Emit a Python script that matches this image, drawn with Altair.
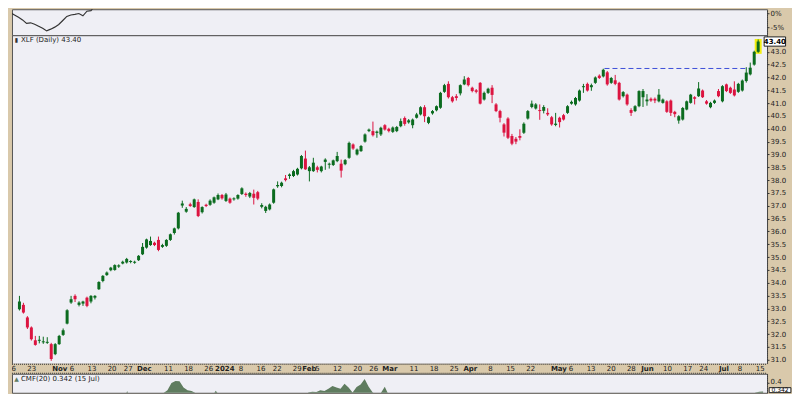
import altair as alt
import pandas as pd

# ---------------- data ----------------
OPEN = [32.97,33.14,32.65,32.26,31.76,31.74,31.68,31.66,31.61,31.22,
31.61,31.97,32.41,33.23,33.49,33.14,33.19,33.42,33.27,33.42,
33.75,34.07,34.30,34.49,34.50,34.63,34.75,34.79,34.81,34.78,
34.88,35.11,35.37,35.47,35.56,35.67,35.40,35.44,35.67,35.94,
36.12,37.01,36.77,37.06,36.95,37.15,36.75,37.04,37.04,37.12,
37.25,37.42,37.19,37.28,37.25,37.28,37.46,37.47,37.36,37.47,
37.53,36.96,36.80,36.86,37.12,37.76,37.77,38.07,38.16,38.16,
38.22,38.46,38.84,38.35,38.35,38.50,38.35,38.71,38.60,38.59,
38.74,38.64,38.62,38.87,39.39,39.00,39.13,39.50,39.91,39.91,
39.84,39.78,40.14,40.00,39.88,39.91,40.10,40.42,40.25,40.14,
40.43,40.56,40.84,40.23,40.60,40.72,40.82,41.44,41.75,41.23,
41.27,41.38,41.73,41.98,41.60,41.50,41.79,41.14,41.40,41.60,
40.95,40.69,40.17,40.40,39.72,39.61,39.72,39.85,40.40,40.85,
40.79,40.73,40.70,40.62,40.45,40.15,40.43,40.53,40.62,40.98,
40.95,41.10,41.62,41.75,41.62,41.79,42.07,42.04,42.20,41.79,
41.89,41.79,41.27,41.33,40.73,40.69,40.88,41.23,41.07,41.17,
41.17,41.07,41.01,41.07,41.10,40.66,40.32,40.36,40.75,41.01,
41.23,41.27,41.49,41.07,40.84,41.01,41.47,41.07,41.73,41.60,
41.53,41.44,41.49,41.86,42.12,42.50,43.00]

CLOSE = [33.27,32.84,32.26,31.80,31.58,31.78,31.72,31.70,31.03,31.61,
31.93,32.15,32.93,33.36,33.36,33.23,33.27,33.10,33.49,33.49,
34.03,34.27,34.40,34.59,34.69,34.68,34.82,34.93,34.85,34.82,
35.05,35.40,35.69,35.63,35.47,35.28,35.47,35.67,35.89,36.12,
36.73,37.09,36.88,36.99,37.25,36.60,36.95,36.99,37.20,37.33,
37.42,37.29,37.44,37.12,37.29,37.42,37.68,37.42,37.50,37.31,
37.28,37.03,36.96,37.05,37.64,37.81,37.90,38.00,38.22,38.35,
38.44,38.94,38.42,38.50,38.68,38.40,38.53,38.80,38.64,38.77,
38.94,38.37,38.78,39.45,39.23,39.19,39.33,39.78,39.97,39.75,
39.89,40.04,39.97,39.91,40.05,40.07,40.30,40.19,40.33,40.36,
40.56,40.84,40.49,40.45,40.69,40.88,41.40,41.70,41.23,41.07,
41.20,41.70,41.92,41.70,41.47,41.44,40.98,41.40,41.56,41.32,
40.69,40.43,39.85,39.65,39.42,39.50,39.65,40.20,40.69,40.98,
40.95,40.69,40.85,40.56,40.17,40.20,40.26,40.36,40.88,41.05,
41.20,41.49,41.66,41.49,41.70,42.00,41.98,42.30,41.73,41.98,
41.75,41.14,41.43,40.95,40.62,40.88,41.47,41.47,41.14,41.10,
41.10,41.33,41.14,40.66,40.62,40.57,40.49,40.81,41.07,41.33,
41.17,41.57,41.23,40.98,41.01,41.10,41.27,41.66,41.47,41.40,
41.30,41.75,41.88,42.19,42.38,43.00,43.40]

HIGH = [33.49,33.22,32.70,32.30,31.93,31.93,31.90,31.88,31.66,31.65,
31.97,32.22,32.97,33.49,33.55,33.28,33.30,33.46,33.52,33.52,
34.06,34.30,34.44,34.62,34.72,34.72,34.86,34.97,34.88,34.86,
35.08,35.55,35.72,35.80,35.60,35.80,35.52,35.70,35.92,36.15,
36.76,37.20,36.95,37.12,37.28,37.25,36.98,37.08,37.25,37.36,
37.48,37.46,37.50,37.32,37.33,37.45,37.72,37.52,37.54,37.63,
37.58,37.10,37.00,37.09,37.67,37.95,37.94,38.20,38.26,38.40,
38.48,38.98,39.15,38.55,38.87,38.56,38.56,38.85,38.68,38.80,
39.10,38.80,38.82,39.50,39.43,39.23,39.37,39.82,40.01,40.28,
39.93,40.08,40.18,40.04,40.09,40.11,40.40,40.48,40.38,40.40,
40.62,40.88,40.92,40.48,40.73,40.91,41.44,41.75,41.85,41.28,
41.35,41.73,42.05,42.02,41.64,41.55,41.82,41.45,41.60,41.70,
41.00,40.74,40.22,40.45,39.80,39.68,39.98,40.25,40.73,41.10,
41.00,40.95,40.92,40.80,40.50,40.62,40.47,40.58,40.92,41.10,
41.24,41.53,41.75,41.80,41.76,42.04,42.12,42.34,42.25,42.02,
42.10,41.83,41.47,41.37,40.80,40.92,41.50,41.55,41.35,41.22,
41.22,41.55,41.18,41.11,41.14,40.70,40.53,40.85,41.10,41.36,
41.27,41.82,41.53,41.12,41.05,41.14,41.55,41.70,41.76,41.64,
41.85,41.79,41.92,42.40,42.58,43.04,43.48]

LOW = [32.92,32.80,32.20,31.75,31.55,31.64,31.62,31.62,30.96,31.18,
31.58,31.93,32.38,33.18,33.25,33.08,33.10,33.05,33.20,33.35,
33.72,34.02,34.27,34.45,34.47,34.58,34.72,34.75,34.76,34.74,
34.85,35.08,35.33,35.44,35.43,35.23,35.36,35.40,35.63,35.88,
36.08,36.92,36.73,36.96,36.92,36.56,36.70,36.95,37.00,37.08,
37.22,37.24,37.15,37.08,37.20,37.24,37.42,37.35,37.30,37.05,
37.22,36.90,36.72,36.82,37.08,37.70,37.72,37.95,38.05,38.12,
38.18,38.42,38.40,37.95,38.32,38.30,38.30,38.40,38.45,38.55,
38.70,38.10,38.58,38.83,39.18,38.96,39.10,39.46,39.87,39.70,
39.65,39.72,39.93,39.86,39.84,39.87,40.06,40.12,40.20,40.02,
40.40,40.52,40.26,40.18,40.55,40.68,40.78,41.40,41.18,41.02,
41.10,41.30,41.70,41.65,41.42,41.38,40.95,41.10,41.36,41.00,
40.65,40.25,39.70,39.60,39.36,39.40,39.55,39.80,40.36,40.80,
40.75,40.35,40.60,40.50,40.12,40.10,40.05,40.32,40.58,40.94,
40.90,41.06,41.40,41.45,41.48,41.75,41.94,42.00,41.68,41.75,
41.70,41.10,41.22,40.90,40.50,40.65,40.84,40.85,40.90,41.05,
41.00,41.03,40.98,40.62,40.50,40.45,40.20,40.32,40.72,40.98,
40.95,41.24,41.20,40.94,40.80,40.97,41.23,41.03,41.43,41.36,
41.26,41.40,41.45,41.80,42.08,42.46,42.96]

CMF = [0.05,0.03,0.0,-0.03,-0.05,-0.06,-0.05,-0.06,-0.08,-0.05,
-0.02,0.0,0.04,0.08,0.1,0.09,0.11,0.1,0.13,0.15,
0.18,0.2,0.21,0.22,0.23,0.24,0.25,0.27,0.345,0.26,
0.24,0.25,0.3,0.322,0.324,0.27,0.26,0.33,0.35,0.4,
0.415,0.412,0.37,0.35,0.345,0.33,0.3,0.26,0.25,0.3,
0.347,0.31,0.285,0.25,0.22,0.2,0.21,0.2,0.19,0.2,
0.18,0.16,0.17,0.2,0.24,0.27,0.29,0.26,0.24,0.25,
0.28,0.325,0.27,0.335,0.34,0.338,0.35,0.345,0.36,0.38,
0.37,0.36,0.395,0.37,0.335,0.372,0.39,0.428,0.375,0.335,
0.315,0.33,0.374,0.315,0.3,0.298,0.29,0.26,0.24,0.22,
0.2,0.19,0.2,0.18,0.17,0.19,0.21,0.22,0.2,0.17,
0.15,0.14,0.15,0.14,0.12,0.1,0.06,0.05,0.04,0.02,
-0.02,-0.05,-0.08,-0.1,-0.12,-0.13,-0.12,-0.1,-0.07,-0.04,
-0.03,-0.02,0.0,0.01,-0.01,0.0,0.02,0.04,0.06,0.08,
0.1,0.12,0.13,0.12,0.14,0.15,0.16,0.17,0.15,0.16,
0.15,0.12,0.11,0.09,0.07,0.08,0.12,0.13,0.12,0.11,
0.1,0.12,0.11,0.08,0.06,0.07,0.06,0.1,0.15,0.2,
0.24,0.28,0.26,0.27,0.3,0.26,0.24,0.25,0.24,0.22,
0.23,0.25,0.27,0.29,0.333,0.34,0.342]

# upper (partially visible) performance panel, percent
TOP_IDX = [-1,0,1,2,3,4,5,6,7,8,9,10,11,12,13,14,15,16,17,18,19,20,21,22,23,24,25]
TOP_PCT = [0.2,-0.6,-1.4,-2.3,-3.5,-3.3,-3.8,-4.5,-5.2,-6.1,-5.5,-4.8,-3.9,-2.5,-1.1,
           -0.6,-0.4,-0.1,-0.9,0.7,0.9,2.6,3.0,3.1,3.2,3.8,4.1]

# date axis labels (trading-day index)
TICK_IDX = [0,5,12,15,20,25,29,33,39,44,49,53,57,62,66,71,74,76,81,86,90,94,100,105,110,
            114,119,124,129,136,139,144,149,154,158,163,168,172,177,181,186]
TICK_TEXT = ["16","23","Nov","6","13","20","27","Dec","11","18","26","2024","8","16","22","29",
             "Feb","5","12","20","26","Mar","11","18","25","Apr","8","15","22","May","6","13",
             "20","28","Jun","10","17","24","Jul","8","15"]
BOLD_LABELS = ["Nov","Dec","2024","Feb","Mar","Apr","May","Jun","Jul"]

PRICE_TICKS = [31.0,31.5,32.0,32.5,33.0,33.5,34.0,34.5,35.0,35.5,36.0,36.5,37.0,37.5,38.0,
               38.5,39.0,39.5,40.0,40.5,41.0,41.5,42.0,42.5,43.0]
TOP_TICKS = [-5, 0]
CMF_TICKS = [0.4]

# horizontal resistance line: start index, end index, price
LEVEL_START = [147.3]
LEVEL_END = [183.6]
LEVEL_PRICE = [42.35]

# ---------------- styling ----------------
GREEN = "#0b6b1f"
RED = "#dc1440"
BG = "#efeff5"
TAN = "#d9c9ab"
FONT = "DejaVu Sans"
TXT = "#222222"
W = 756
XS = alt.Scale(domain=[-0.62, 186.97], nice=False, zero=False)
YS_MAIN = alt.Scale(domain=[30.844, 43.646], nice=False, zero=False)
YS_TOP = alt.Scale(domain=[-7.59, 1.38], nice=False, zero=False)
YS_CMF = alt.Scale(domain=[0.3326, 0.4646], nice=False, zero=False)

N = len(CLOSE)
df = pd.DataFrame({"i": list(range(N)), "open": OPEN, "high": HIGH, "low": LOW, "close": CLOSE})
df["dir"] = ["up" if c >= o else "down" for o, c in zip(OPEN, CLOSE)]
df["btop"] = df[["open", "close"]].max(axis=1)
df["bbot"] = df[["open", "close"]].min(axis=1)

col = alt.Color("dir:N", scale=alt.Scale(domain=["up", "down"], range=[GREEN, RED]), legend=None)
xenc = alt.X("i:Q", scale=XS, axis=None)

main_axis = alt.Axis(orient="right", values=PRICE_TICKS, format=".1f", title=None,
                     labelOverlap=False, labelBound=False, grid=False)

base = alt.Chart(df)
last = df.tail(1).copy()
last["hl_lo"] = last["low"] - 0.04
last["hl_hi"] = last["high"] + 0.02

highlight = alt.Chart(last).mark_bar(size=7, color="#f2ee10").encode(
    x=xenc, y=alt.Y("hl_lo:Q", scale=YS_MAIN, axis=main_axis), y2="hl_hi:Q")
wick = base.mark_rule(strokeWidth=1).encode(
    x=xenc, y=alt.Y("low:Q", scale=YS_MAIN, axis=main_axis), y2="high:Q", color=col)
body = base.mark_bar(size=3).encode(
    x=xenc, y=alt.Y("bbot:Q", scale=YS_MAIN, axis=main_axis), y2="btop:Q", color=col)

lvl_df = pd.DataFrame({"s": LEVEL_START, "e": LEVEL_END, "p": LEVEL_PRICE})
level = alt.Chart(lvl_df).mark_rule(color="#3d4fd8", strokeDash=[5, 3], strokeWidth=1).encode(
    x=alt.X("s:Q", scale=XS, axis=None), x2="e:Q", y=alt.Y("p:Q", scale=YS_MAIN, axis=main_axis))

lc = CLOSE[-1]
box_df = pd.DataFrame({"x1": [N + 0.5], "x2": [N + 5.9], "xt": [N + 3.2],
                       "y1": [lc - 0.18], "y2": [lc + 0.18], "y": [lc], "t": [f"{lc:.2f}"]})
box = alt.Chart(box_df).mark_rect(fill="white", stroke="#222", strokeWidth=1).encode(
    x=alt.X("x1:Q", scale=XS, axis=None), x2="x2:Q",
    y=alt.Y("y1:Q", scale=YS_MAIN, axis=main_axis), y2="y2:Q")
box_t = alt.Chart(box_df).mark_text(font=FONT, fontSize=7, fontWeight="bold", color="#000").encode(
    x=alt.X("xt:Q", scale=XS, axis=None), y=alt.Y("y:Q", scale=YS_MAIN, axis=main_axis), text="t:N")

hdr_df = pd.DataFrame({"t": [f"XLF (Daily) {lc:.2f}"]})
hdr = alt.Chart(hdr_df).mark_text(font=FONT, fontSize=7, color=TXT, align="left", baseline="middle").encode(
    x=alt.value(9), y=alt.value(5), text="t:N")
icon = alt.Chart(hdr_df).mark_text(font=FONT, fontSize=6, color="#333", baseline="middle").encode(
    x=alt.value(4.5), y=alt.value(5), text=alt.value("▮"))

main = alt.layer(highlight, wick, body, level, box, box_t, icon, hdr).properties(
    width=W, height=329, view=alt.ViewBackground(fill=BG, stroke="#555"))

# top panel
top_df = pd.DataFrame({"i": TOP_IDX, "pct": TOP_PCT})
top = alt.Chart(top_df).mark_line(clip=True, color="#333", strokeWidth=1.2).encode(
    x=xenc,
    y=alt.Y("pct:Q", scale=YS_TOP, axis=alt.Axis(orient="right", values=TOP_TICKS, title=None,
            labelExpr="datum.value + '%'", labelOverlap=False, labelBound=False, grid=False)),
).properties(width=W, height=26, view=alt.ViewBackground(fill=BG, stroke="#555"))

# date band
dates_df = pd.DataFrame({"i": TICK_IDX, "t": TICK_TEXT,
                         "b": [1 if t in BOLD_LABELS else 0 for t in TICK_TEXT]})
d_norm = alt.Chart(dates_df).transform_filter("datum.b == 0").mark_text(
    font=FONT, fontSize=7, color=TXT, dx=-3, baseline="middle", clip=True).encode(
    x=xenc, y=alt.value(5.5), text="t:N")
d_bold = alt.Chart(dates_df).transform_filter("datum.b == 1").mark_text(
    font=FONT, fontSize=7, fontWeight="bold", color=TXT, dx=-3, baseline="middle", clip=True).encode(
    x=xenc, y=alt.value(5.5), text="t:N")
edge_df = pd.DataFrame({"k": [0]})
d_top = alt.Chart(edge_df).mark_rule(color="#333", strokeDash=[1, 1]).encode(
    x=alt.value(0), x2=alt.value(W), y=alt.value(0.5))
d_bot = alt.Chart(edge_df).mark_rule(color="#333", strokeDash=[1, 1]).encode(
    x=alt.value(0), x2=alt.value(W), y=alt.value(9.5))
dates = alt.layer(d_top, d_bot, d_norm, d_bold).properties(
    width=W, height=10, view=alt.ViewBackground(fill=TAN, stroke=TAN))

# CMF panel (bottom part falls outside the visible page)
cmf_df = pd.DataFrame({"i": list(range(N)), "cmf": CMF})
cmf_axis = alt.Axis(orient="right", values=CMF_TICKS, format=".1f", title=None, labelOffset=-2,
                    labelOverlap=False, labelBound=False, grid=False)
area = alt.Chart(cmf_df).mark_area(clip=True, color="#5f7c5f", opacity=1).encode(
    x=xenc, y=alt.Y("cmf:Q", scale=YS_CMF, axis=cmf_axis), y2=alt.datum(0))
lcmf = CMF[-1]
cbox_df = pd.DataFrame({"x1": [N + 0.5], "x2": [N + 5.9], "xt": [N + 3.2],
                        "y1": [0.3335], "y2": [lcmf + 0.026], "y": [lcmf + 0.009],
                        "t": [f"{lcmf:.3f}"]})
cbox = alt.Chart(cbox_df).mark_rect(fill="white", stroke="#222", strokeWidth=1).encode(
    x=alt.X("x1:Q", scale=XS, axis=None), x2="x2:Q",
    y=alt.Y("y1:Q", scale=YS_CMF, axis=cmf_axis), y2="y2:Q")
cbox_t = alt.Chart(cbox_df).mark_text(font=FONT, fontSize=6, color="#000").encode(
    x=alt.X("xt:Q", scale=XS, axis=None), y=alt.Y("y:Q", scale=YS_CMF, axis=cmf_axis), text="t:N")
chdr_df = pd.DataFrame({"t": [f"CMF(20) {lcmf:.3f} (15 Jul)"]})
chdr = alt.Chart(chdr_df).mark_text(font=FONT, fontSize=7, color=TXT, align="left", baseline="middle").encode(
    x=alt.value(9), y=alt.value(5), text="t:N")
cicon = alt.Chart(chdr_df).mark_text(font=FONT, fontSize=6, color="#5f7c5f", baseline="middle").encode(
    x=alt.value(4.5), y=alt.value(5), text=alt.value("▲"))
cmf = alt.layer(area, cbox, cbox_t, cicon, chdr).properties(
    width=W, height=19, view=alt.ViewBackground(fill=BG, stroke="#555"))

chart = alt.vconcat(top, main, dates, cmf, spacing=0, bounds="flush").properties(
    padding={"left": 3, "top": 0, "right": 0, "bottom": 0}, background=TAN
).configure_axis(
    labelFont=FONT, labelFontSize=7, labelColor=TXT, tickColor="#333", tickSize=2,
    domainColor="#333", domainDash=[1, 1], labelPadding=1
)

chart.save("out.html", embed_options={"renderer": "svg", "actions": False})
